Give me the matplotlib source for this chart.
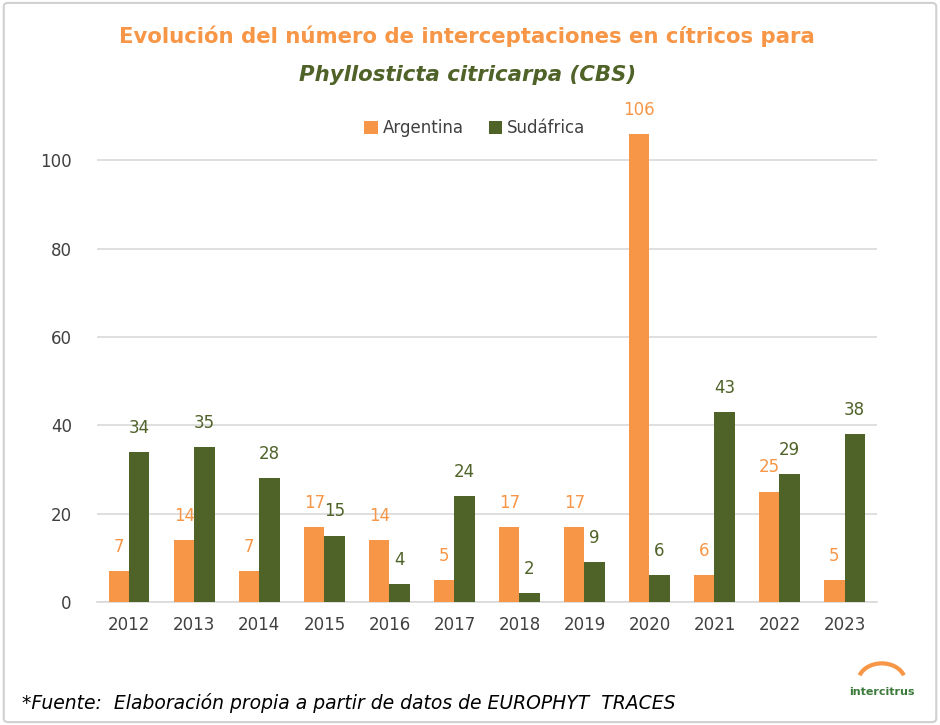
import matplotlib.pyplot as plt
import numpy as np
from matplotlib.patches import FancyBboxPatch, Arc

years = ['2012', '2013', '2014', '2015', '2016', '2017', '2018', '2019', '2020', '2021', '2022', '2023']
argentina = [7, 14, 7, 17, 14, 5, 17, 17, 106, 6, 25, 5]
sudafrica = [34, 35, 28, 15, 4, 24, 2, 9, 6, 43, 29, 38]

orange = '#F79646'
green = '#4F6228'
txt = '#404040'

plt.rcParams['font.family'] = ['DejaVu Sans']

fig = plt.figure(figsize=(9.4, 7.25), dpi=100)
ax = fig.add_axes([0.103, 0.1697, 0.83, 0.670])

x = np.arange(len(years))
w = 0.31
b1 = ax.bar(x - w / 2, argentina, w, color=orange, label='Argentina', zorder=3)
b2 = ax.bar(x + w / 2, sudafrica, w, color=green, label='Sudáfrica', zorder=3)

# data labels
ax.bar_label(b1, padding=11, color=orange, fontsize=12)
ax.bar_label(b2, padding=11, color=green, fontsize=12)

ax.set_xlim(-0.5, len(years) - 0.5)
ax.set_ylim(0, 110)
ax.set_yticks([0, 20, 40, 60, 80, 100])
ax.set_xticks(x)
ax.set_xticklabels(years)
ax.yaxis.grid(True, color='#D9D9D9', linewidth=1.2, zorder=0)
ax.tick_params(axis='both', length=0, labelsize=12, colors=txt, pad=10)
ax.tick_params(axis='y', pad=18)
for s in ['top', 'right', 'left']:
    ax.spines[s].set_visible(False)
ax.spines['bottom'].set_color('#D9D9D9')
ax.spines['bottom'].set_linewidth(1.2)

fig.legend(loc='center', bbox_to_anchor=(0.505, 0.823), ncol=2, frameon=False,
           fontsize=12, handlelength=0.8, handleheight=0.8, handletextpad=0.3,
           columnspacing=1.5, labelcolor=txt)

# title
fig.text(0.497, 0.950, 'Evolución del número de interceptaciones en cítricos para',
         ha='center', va='center', fontsize=15.3, fontweight='bold', color=orange)
fig.text(0.497, 0.896, 'Phyllosticta citricarpa (CBS)',
         ha='center', va='center', fontsize=15.3, fontweight='bold', style='italic', color=green)

# source note
fig.text(0.023, 0.030, '*Fuente:  Elaboración propia a partir de datos de EUROPHYT  TRACES',
         ha='left', va='center', fontsize=13.5, style='italic', color='black')

# small logo
fig.text(0.938, 0.045, 'intercitrus', ha='center', va='center', fontsize=8,
         fontweight='bold', color='#3C7A3A')
fig.patches.append(Arc((0.938, 0.06), 0.05, 0.05, theta1=20, theta2=160,
                       transform=fig.transFigure, color=orange, linewidth=3))

# frame around the chart
fig.patches.append(FancyBboxPatch((0.004, 0.004), 0.992, 0.992,
                                  boxstyle='round,pad=0,rounding_size=0.005',
                                  transform=fig.transFigure, fill=False,
                                  edgecolor='#D0D0D0', linewidth=1.5))

fig.savefig('out.png', dpi=100)
